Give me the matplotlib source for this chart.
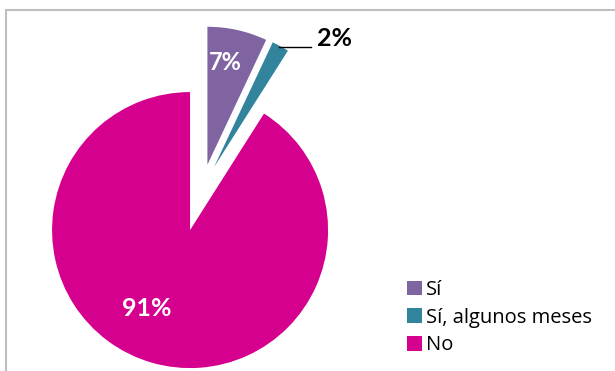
import matplotlib.pyplot as plt
from matplotlib.patches import Rectangle

# Respuestas (porcentaje)
categories = ['Sí', 'Sí, algunos meses', 'No']
values = [7, 2, 91]
pct_labels = ['7%', '2%', '91%']
colors = ['#8064A2', '#31849B', '#D6008E']
explode = [0.18, 0.18, 0.31]

W, H = 615, 371
R = 138

fig = plt.figure(figsize=(W / 100, H / 100), dpi=100)
ax = fig.add_axes([0, 0, 1, 1])

# chart area border (only top/left visible in the crop)
ax.add_patch(Rectangle((6, -20), W + 20, H - 10 + 20, fill=False,
                       edgecolor='#BFBFBF', linewidth=1.5))

# matplotlib explode is in data units, so scale by the radius
wedges, _ = ax.pie(values, colors=colors, explode=[e * R for e in explode],
                   startangle=90, counterclock=False, radius=R,
                   center=(202, H - 189), frame=True,
                   wedgeprops=dict(linewidth=0))
ax.set_xlim(0, W)
ax.set_ylim(0, H)
ax.axis('off')

font = 'Lato'
ax.text(225, H - 62, pct_labels[0], color='white', fontsize=17,
        fontweight='bold', family=font, ha='center', va='center')
ax.text(147, H - 308, pct_labels[2], color='white', fontsize=18,
        fontweight='bold', family=font, ha='center', va='center')
ax.text(334, H - 39, pct_labels[1], color='black', fontsize=18,
        fontweight='bold', family=font, ha='center', va='center')
ax.plot([279, 311], [H - 47, H - 47], color='black', linewidth=1)

leg = ax.legend(wedges, categories, loc='upper left',
                bbox_to_anchor=(389 / W, 1 - 262 / H), frameon=False,
                handlelength=0.75, handleheight=0.75, handletextpad=0.2,
                labelspacing=0.38, prop=dict(family='Open Sans', size=14.5))

fig.savefig('out.png', dpi=100)
